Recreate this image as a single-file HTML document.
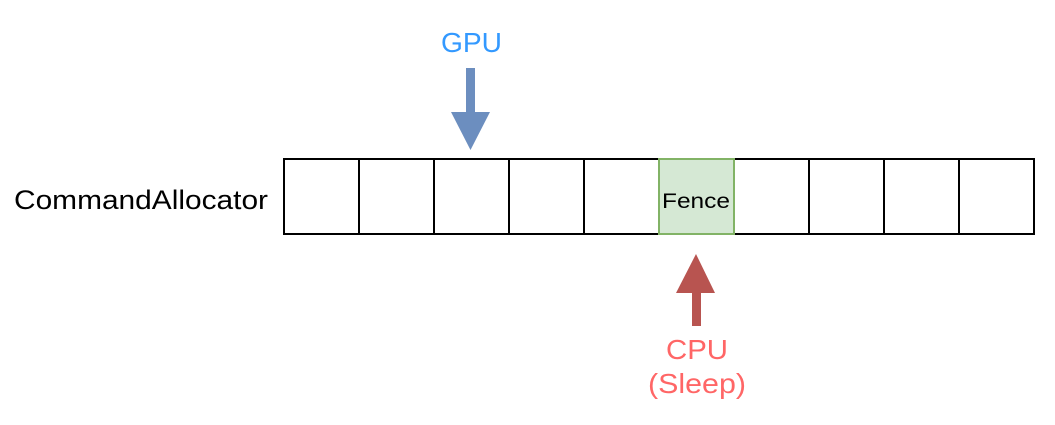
<!DOCTYPE html>
<html><head><style>body{margin:0;background:#fff}</style></head><body>
<svg width="1055" height="420" xmlns="http://www.w3.org/2000/svg" font-family="Liberation Sans, Arial, sans-serif">
<rect width="1055" height="420" fill="#fff"/>
<g fill="#fff" stroke="#000" stroke-width="2">
<rect x="284" y="159" width="75" height="75"/>
<rect x="359" y="159" width="75" height="75"/>
<rect x="434" y="159" width="75" height="75"/>
<rect x="509" y="159" width="75" height="75"/>
<rect x="584" y="159" width="75" height="75"/>
<rect x="734" y="159" width="75" height="75"/>
<rect x="809" y="159" width="75" height="75"/>
<rect x="884" y="159" width="75" height="75"/>
<rect x="959" y="159" width="75" height="75"/>
</g>
<rect x="659" y="159" width="75" height="75" fill="#d5e8d4" stroke="#82b366" stroke-width="2"/>
<text x="662" y="208" font-size="21" fill="#000" textLength="68" lengthAdjust="spacingAndGlyphs">Fence</text>
<text x="14" y="209" font-size="27" fill="#000" textLength="254" lengthAdjust="spacingAndGlyphs">CommandAllocator</text>
<text x="441" y="52" font-size="28" fill="#3399ff" textLength="61" lengthAdjust="spacingAndGlyphs">GPU</text>
<path d="M466,68 H475 V112 H490 L470.5,150 L451,112 H466 Z" fill="#6c8ebf"/>
<path d="M692,326 H701 V293 H715 L696,254 L676,293 H692 Z" fill="#b85450"/>
<text x="666" y="359" font-size="28" fill="#ff6666" textLength="62" lengthAdjust="spacingAndGlyphs">CPU</text>
<text x="648" y="393" font-size="28" fill="#ff6666" textLength="98" lengthAdjust="spacingAndGlyphs">(Sleep)</text>
</svg>
</body></html>
